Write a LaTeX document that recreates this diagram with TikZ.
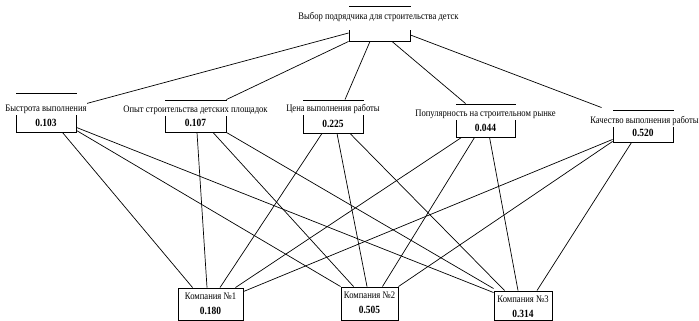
\documentclass[tikz,border=0pt]{standalone}
\usepackage{fontspec}
\setmainfont{Liberation Serif}[FakeStretch=0.86]
\tikzset{
  box/.style={draw, line width=0.9pt, inner sep=0pt},
  lbl/.style={fill=white, inner sep=0pt, anchor=north, text depth=3pt, font=\fontsize{10}{12}\selectfont},
  clbl/.style={inner sep=0pt, font=\fontsize{10}{12}\selectfont},
  val/.style={inner sep=0pt, font=\bfseries\fontsize{11}{13}\selectfont},
  link/.style={line width=0.7pt}
}
\begin{document}
\begin{tikzpicture}[x=1pt,y=-1pt]
\useasboundingbox (0,0) rectangle (699,321);
% boxes
\node[box, minimum width=61pt, minimum height=35pt] (goal) at (379.5,23.5) {};
\node[box, minimum width=60pt, minimum height=39pt] (kr1) at (46,112.5) {};
\node[box, minimum width=61pt, minimum height=32pt] (kr2) at (195.5,116) {};
\node[box, minimum width=60pt, minimum height=33pt] (kr3) at (333,116.5) {};
\node[box, minimum width=59pt, minimum height=33pt] (kr4) at (485.5,120.5) {};
\node[box, minimum width=60pt, minimum height=32pt] (kr5) at (643,126) {};
\node[box, minimum width=65pt, minimum height=32pt] (co1) at (210.5,304) {};
\node[box, minimum width=57pt, minimum height=33pt] (co2) at (369.5,303.5) {};
\node[box, minimum width=58pt, minimum height=29pt] (co3) at (523,305.5) {};
%
\draw[link] ([yshift=-9.5pt]goal.west) -- ([xshift=10pt,yshift=-11pt]kr1.north east);
\draw[link] (goal.south west) -- (kr2.north east);
\draw[link] ([xshift=-9.5pt]goal.south) -- ([xshift=12pt]kr3.north);
\draw[link] ([xshift=12.5pt]goal.south) -- ([xshift=10pt]kr4.north west);
\draw[link] ([yshift=-11.5pt]goal.east) -- ([xshift=-11pt,yshift=2pt]kr5.north west);
%
\draw[link] ([xshift=-14pt]kr1.south east) -- ([xshift=15pt]co1.north west);
\draw[link] ([yshift=2pt]kr1.south east) -- (co2.north west);
\draw[link] ([yshift=5pt]kr1.south east) -- ([yshift=-2pt]co3.north west);
\draw[link] ([xshift=1.5pt]kr2.south) -- ([xshift=-3.5pt]co1.north);
\draw[link] ([xshift=17.5pt]kr2.south) -- ([xshift=13pt]co2.north west);
\draw[link] (kr2.south east) -- ([yshift=2pt]co3.north west);
\draw[link] ([xshift=-11pt]kr3.south) -- ([xshift=9.5pt]co1.north);
\draw[link] ([xshift=4pt]kr3.south) -- ([xshift=-2.5pt]co2.north);
\draw[link] ([xshift=17pt]kr3.south) -- ([xshift=11pt]co3.north west);
\draw[link] ([xshift=6pt]kr4.south west) -- ([xshift=-8pt]co1.north east);
\draw[link] ([xshift=19pt]kr4.south west) -- ([xshift=-16pt]co2.north east);
\draw[link] ([xshift=34pt]kr4.south west) -- ([xshift=-5pt]co3.north);
\draw[link] ([yshift=3pt]kr5.south west) -- ([yshift=-4pt]co1.north east);
\draw[link] ([yshift=1pt]kr5.south west) -- (co2.north east);
\draw[link] ([xshift=19pt]kr5.south west) -- ([xshift=14pt]co3.north);
%
\node[lbl, text height=13pt, text depth=10pt] (goall) at ([xshift=-1pt,yshift=-1pt]goal.north) {Выбор подрядчика для строительства детск};
\node[lbl, text height=18pt] (kr1l) at ([yshift=-1pt]kr1.north) {Быстрота выполнения};
\node[lbl, text height=12pt] (kr2l) at ([yshift=-1pt]kr2.north) {Опыт строительства детских площадок};
\node[lbl, text height=11pt] (kr3l) at ([yshift=-1pt]kr3.north) {Цена выполнения работы};
\node[lbl, text height=12pt] (kr4l) at ([yshift=-1pt]kr4.north) {Популярность на строительном рынке};
\node[lbl, text height=13pt] (kr5l) at ([xshift=1.5pt,yshift=-1pt]kr5.north) {Качество выполнения работы};
%
\node[val] (kr1v) at ([yshift=10pt]kr1.south) {0.103};
\node[val] (kr2v) at ([yshift=10pt]kr2.south) {0.107};
\node[val] (kr3v) at ([yshift=10pt]kr3.south) {0.225};
\node[val] (kr4v) at ([yshift=9.5pt]kr4.south) {0.044};
\node[val] (kr5v) at ([yshift=9.5pt]kr5.south) {0.520};
%
\node[clbl] (co1l) at ([yshift=-9pt]co1.north) {Компания №1};
\node[clbl] (co2l) at ([yshift=-9pt]co2.north) {Компания №2};
\node[clbl] (co3l) at ([yshift=-9pt]co3.north) {Компания №3};
\node[val] (co1v) at ([yshift=-23pt]co1.north) {0.180};
\node[val] (co2v) at ([yshift=-23pt]co2.north) {0.505};
\node[val] (co3v) at ([yshift=-23pt]co3.north) {0.314};
\end{tikzpicture}
\end{document}
